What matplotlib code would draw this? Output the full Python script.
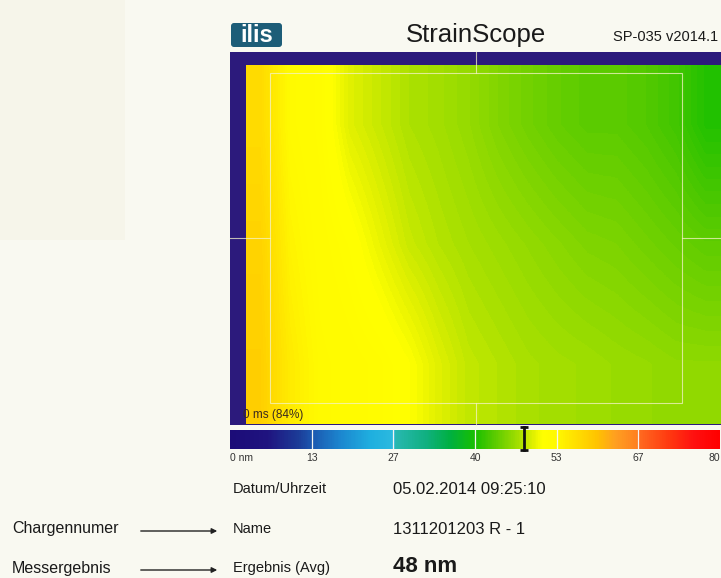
import numpy as np
import matplotlib
matplotlib.use("Agg")
import matplotlib.pyplot as plt
from matplotlib.colors import LinearSegmentedColormap
from matplotlib.patches import Rectangle, FancyBboxPatch

W, H = 721, 578

# strain map (nm), estimated on a coarse grid: rows top/middle/bottom, 16 columns left -> right
map_top = [57, 53, 52, 49.5, 48.5, 47.5, 47, 46.3, 45.3, 44.5, 43.8, 43.3, 43.3, 42.8, 42, 40.5]
map_mid = [58, 54, 52.5, 51.5, 50, 48.6, 47.8, 47.2, 46.7, 46.2, 45.7, 45.2, 45, 44.5, 44, 43.5]
map_bot = [58.5, 55, 53, 52.5, 52, 51, 49.5, 48.3, 47.8, 47.3, 47, 46.8, 46.5, 46.3, 46, 46]

# colour scale of the StrainScope
scale_min, scale_max = 0, 80
cmap_vals = [0, 6, 11, 13.3, 18, 23, 26.6, 27, 32, 36, 40, 42.5, 45, 47.3, 49.5, 51, 53.3,
             56, 60, 63, 66.6, 67, 72, 76, 80]
cmap_cols = ["#1c0c78", "#201480", "#1c3c98", "#1c58b0", "#1c88d0", "#20b0e0", "#2cbadf", "#28b8b0",
             "#10b080", "#00b040", "#18c000", "#4cc800", "#7cd400", "#a8e000", "#e0f000", "#ffff00",
             "#fffa00", "#ffe400", "#ffc400", "#ffa020", "#ff8020", "#ff6a20", "#ff3810", "#ff1010",
             "#ff0000"]
tick_pos = [0, 13.33, 26.67, 40, 53.33, 66.67, 80]
tick_labels = ["0 nm", "13", "27", "40", "53", "67", "80"]
avg_value = 48

header_title = "StrainScope"
header_version = "SP-035 v2014.1"
row_labels = ["Datum/Uhrzeit", "Name", "Ergebnis (Avg)"]
row_values = ["05.02.2014 09:25:10", "1311201203 R - 1", "48 nm"]
side_notes = ["Chargennumer", "Messergebnis"]

plt.rcParams["font.family"] = ["Liberation Sans", "DejaVu Sans"]
narrow = ["Liberation Sans Narrow", "Liberation Sans", "DejaVu Sans"]


def px_axes(x0, y0, x1, y1, **kw):
    return fig.add_axes([x0 / W, 1 - y1 / H, (x1 - x0) / W, (y1 - y0) / H], **kw)


fig = plt.figure(figsize=(W / 100, H / 100), dpi=100)
fig.patch.set_facecolor("#f9f9f1")

# page background
page = px_axes(0, 0, W, H)
page.set_xlim(0, W)
page.set_ylim(H, 0)
page.axis("off")
page.add_patch(Rectangle((0, 0), 125, 240, color="#f6f5ea", lw=0))
page.add_patch(Rectangle((230, 52), 520, 373, color="#2c1a7c", lw=0))

cmap = LinearSegmentedColormap.from_list(
    "strain", list(zip([v / scale_max for v in cmap_vals], cmap_cols)))

# strain map
ax_map = px_axes(246, 65, W, 424)
grid = np.array([map_top, map_mid, map_bot])
ax_map.imshow(grid, cmap=cmap, vmin=scale_min, vmax=scale_max, aspect="auto",
              interpolation="bilinear", extent=(0, 1, 1, 0))
ax_map.axis("off")

# colour bar
ax_cb = px_axes(230, 430, 720, 449)
ax_cb.imshow(np.linspace(scale_min, scale_max, 600)[None, :], cmap=cmap, vmin=scale_min,
             vmax=scale_max, aspect="auto", extent=(scale_min, scale_max, 0, 1))
for t in tick_pos[1:-1]:
    ax_cb.axvline(t, color="#f4f4f0", lw=0.9)
ax_cb.set_xlim(scale_min, scale_max)
ax_cb.set_ylim(0, 1)
ax_cb.axis("off")
for t, lab in zip(tick_pos, tick_labels):
    ha = "left" if t == tick_pos[0] else ("right" if t == tick_pos[-1] else "center")
    ax_cb.text(t, -0.45, lab, ha=ha, va="center", fontsize=7.5, color="#333333",
               family=narrow, clip_on=False)
ax_cb.plot([avg_value, avg_value], [-0.05, 1.15], color="#111111", lw=2, clip_on=False)
ax_cb.plot([avg_value, avg_value], [-0.05, 1.15], ls="none", marker="_", ms=6, mew=2,
           color="#111111", clip_on=False)

# overlay: frame lines, header and text rows
top = px_axes(0, 0, W, H)
top.set_xlim(0, W)
top.set_ylim(H, 0)
top.axis("off")
top.patch.set_alpha(0)
line_kw = dict(color="#f4f2c8", lw=0.8, alpha=0.75)
top.add_patch(Rectangle((270, 73), 412, 330, fill=False, **line_kw))
top.plot([476, 476], [52, 73], **line_kw)
top.plot([476, 476], [403, 425], **line_kw)
top.plot([230, 270], [238, 238], **line_kw)
top.plot([682, W], [238, 238], **line_kw)
top.text(243, 415, "0 ms (84%)", fontsize=8.5, color="#3a2a20", va="center", ha="left",
         family=narrow)

# header
top.add_patch(FancyBboxPatch((231, 23), 51, 24, boxstyle="round,pad=0,rounding_size=3",
                             color="#1d5d78", lw=0))
top.text(256.5, 35, "ilis", fontsize=17, fontweight="bold", color="white",
         ha="center", va="center")
top.text(476, 35, header_title, fontsize=18.5, color="#1a1a1a", ha="center", va="center")
top.text(613, 37, header_version, fontsize=10.5, color="#1a1a1a", ha="left", va="center")

# data rows
row_y = [489, 529, 568]
for y, lab, val in zip(row_y, row_labels, row_values):
    top.text(233, y, lab, fontsize=10.5, color="#1a1a1a", ha="left", va="center", family=narrow)
    bold = val == row_values[-1]
    top.text(393, y - 2 if bold else y, val, fontsize=16 if bold else 12,
             fontweight="bold" if bold else "normal",
             color="#1a1a1a", ha="left", va="center")

for y, note in zip(row_y[1:], side_notes):
    top.text(12, y, note, fontsize=11.5, color="#1a1a1a", ha="left", va="center", family=narrow)
    top.annotate("", xy=(220, y + 2), xytext=(138, y + 2),
                 arrowprops=dict(arrowstyle="-|>", lw=1, color="#222222", mutation_scale=8))

fig.savefig("out.png", dpi=100, facecolor=fig.get_facecolor())
